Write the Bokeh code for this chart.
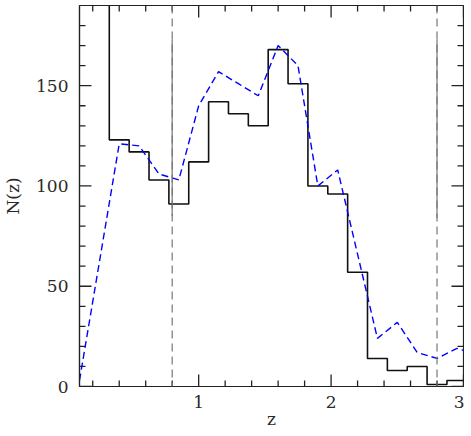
from bokeh.plotting import figure
from bokeh.models import Range1d, FixedTicker, Span
from bokeh.embed import file_html
from bokeh.resources import INLINE

# Histogram (black): bin left edges and counts, bin width 0.15
hist_left = [0.175, 0.325, 0.475, 0.625, 0.775, 0.925, 1.075, 1.225, 1.375, 1.525,
             1.675, 1.825, 1.975, 2.125, 2.275, 2.425, 2.575, 2.725, 2.875]
hist_counts = [250, 123, 117, 103, 91, 112, 142, 136, 130, 168,
               151, 100, 96, 57, 14, 8, 10, 1, 3]
bin_width = 0.15

# Model curve (blue dashed)
model_z = [0.1, 0.25, 0.4, 0.55, 0.7, 0.85, 1.0, 1.15, 1.3, 1.45, 1.6, 1.75,
           1.9, 2.05, 2.2, 2.35, 2.5, 2.65, 2.8, 2.95, 3.1]
model_n = [3, 62, 121, 120, 106, 103, 140, 157, 151, 145, 170, 160,
           100, 108, 66, 24, 32, 17, 14, 19, 16]

# Vertical marker lines
vline_z = [0.8, 2.8]
vline_solid_lo = [85, 84]
vline_solid_hi = [173, 173]

X_MIN, X_MAX = 0.1, 3.0
Y_MIN, Y_MAX = 0, 190
x_ticks = [1, 2, 3]
x_minor = [0.2, 0.4, 0.6, 0.8, 1.2, 1.4, 1.6, 1.8, 2.2, 2.4, 2.6, 2.8]
y_ticks = [0, 50, 100, 150]
y_minor = [10, 20, 30, 40, 60, 70, 80, 90, 110, 120, 130, 140, 160, 170, 180]

FONT = "DejaVu Serif"
AX = "#222222"
TXT = "#2a2a2a"
FW, FH = 384, 381

p = figure(frame_width=FW, frame_height=FH, output_backend="svg", toolbar_location=None,
           x_range=Range1d(X_MIN, X_MAX), y_range=Range1d(Y_MIN, Y_MAX),
           min_border_left=70, min_border_right=1, min_border_top=5, min_border_bottom=44)
p.background_fill_color = "white"
p.border_fill_color = "white"
p.outline_line_color = AX
p.outline_line_width = 1.2
p.grid.visible = False

for ax in p.xaxis + p.yaxis:
    ax.major_tick_in = 0
    ax.major_tick_out = 0
    ax.minor_tick_in = 0
    ax.minor_tick_out = 0
    ax.axis_line_color = AX
    ax.axis_line_width = 1.2
    ax.major_label_text_font = FONT
    ax.major_label_text_font_size = "17px"
    ax.major_label_text_color = TXT
    ax.axis_label_text_font = FONT
    ax.axis_label_text_font_size = "17px"
    ax.axis_label_text_font_style = "normal"
    ax.axis_label_text_color = TXT

p.xaxis.ticker = FixedTicker(ticks=x_ticks)
p.yaxis.ticker = FixedTicker(ticks=y_ticks)
p.xaxis.axis_label = "z"
p.yaxis.axis_label = "N(z)"
p.xaxis.major_label_standoff = 9
p.xaxis.axis_label_standoff = -2
p.yaxis.major_label_standoff = 11
p.yaxis.axis_label_standoff = 10

# inward tick marks on all four sides, lengths given in pixels
dx_per_px = (X_MAX - X_MIN) / FW
dy_per_px = (Y_MAX - Y_MIN) / FH
TW = 1.3

def ticks_x(vals, px):
    L = px * dy_per_px
    p.segment(x0=vals, y0=[Y_MIN] * len(vals), x1=vals, y1=[Y_MIN + L] * len(vals),
              line_color=AX, line_width=TW)
    p.segment(x0=vals, y0=[Y_MAX] * len(vals), x1=vals, y1=[Y_MAX - L] * len(vals),
              line_color=AX, line_width=TW)

def ticks_y(vals, px):
    L = px * dx_per_px
    p.segment(x0=[X_MIN] * len(vals), y0=vals, x1=[X_MIN + L] * len(vals), y1=vals,
              line_color=AX, line_width=TW)
    p.segment(x0=[X_MAX] * len(vals), y0=vals, x1=[X_MAX - L] * len(vals), y1=vals,
              line_color=AX, line_width=TW)

ticks_x(x_ticks, 12)
ticks_x(x_minor, 6)
ticks_y(y_ticks, 12)
ticks_y(y_minor, 6)

# vertical marker lines: dashed full height + solid middle segment
for zv in vline_z:
    p.add_layout(Span(location=zv, dimension="height", line_color="#777777",
                      line_width=1.2, line_dash="8 5"))
p.segment(x0=vline_z, y0=vline_solid_lo, x1=vline_z, y1=vline_solid_hi,
          line_color="#777777", line_width=1.2)

# histogram steps
step_x = hist_left + [hist_left[-1] + bin_width]
step_y = hist_counts + [hist_counts[-1]]
p.step(step_x, step_y, mode="after", line_color="#111111", line_width=1.6)

# model curve
p.line(model_z, model_n, line_color="#0000ff", line_width=1.4, line_dash="7 4")

open("out.html", "w").write(file_html(p, INLINE))
